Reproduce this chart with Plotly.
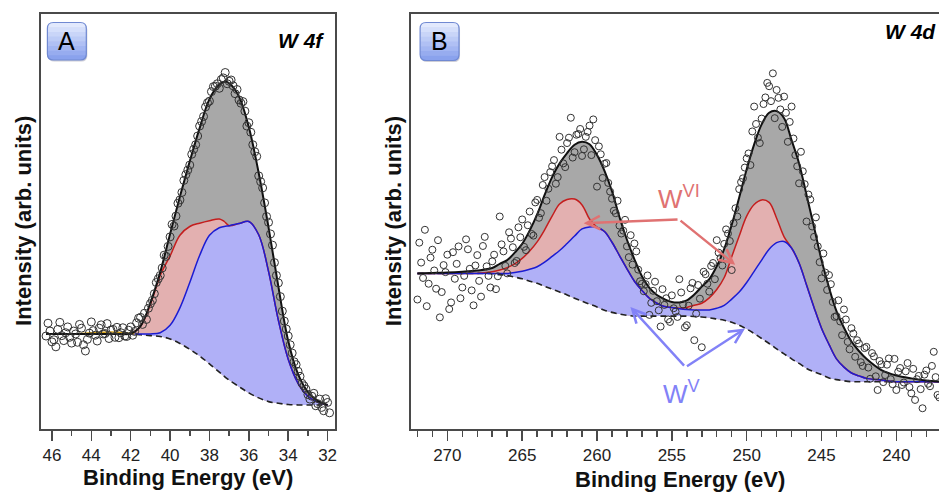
import plotly.graph_objects as go

W, H = 941, 493

# ---------------- Panel A : W 4f ----------------
A_x = [46.3, 45.5, 44.5, 43.5, 42.5, 42.0, 41.5, 41.0, 40.5, 40.0, 39.5, 39.0, 38.5, 38.0,
       37.5, 37.25, 37.0, 36.5, 36.0, 35.5, 35.0, 34.5, 34.0, 33.5, 33.0, 32.5, 32.0]
A_env = [22.9, 22.9, 22.9, 22.9, 22.9, 23.0, 24.8, 30.4, 37.8, 47.0, 56.0, 64.5, 72.5, 79.5,
         83.0, 83.7, 83.3, 80.1, 72.7, 61.7, 48.6, 34.3, 21.2, 13.2, 8.9, 6.8, 5.8]
A_bg = [22.9, 22.9, 22.9, 22.9, 22.9, 22.9, 22.7, 22.5, 22.3, 21.7, 20.6, 19.2, 17.6, 15.7,
        13.7, 12.7, 11.8, 10.2, 8.7, 7.5, 6.6, 6.2, 5.9, 5.8, 5.8, 5.8, 5.8]
A_wvi = [22.9, 22.9, 22.9, 22.9, 22.9, 23.0, 24.8, 30.0, 37.0, 41.7, 46.7, 48.8, 49.6, 50.2,
         50.6, 50.0, 49.0, 49.5, 50.0, 46.8, 38.0, 26.2, 16.8, 11.0, 7.9, 6.5, 5.8]
A_wv = [22.9, 22.9, 22.9, 22.9, 22.9, 22.9, 22.9, 22.9, 23.2, 25.0, 29.2, 35.3, 41.8, 46.7,
        48.5, 48.8, 49.0, 49.5, 50.0, 46.8, 38.0, 26.2, 16.8, 11.0, 7.9, 6.5, 5.8]
A_minor_x = [44.8, 44.0, 43.0, 42.3, 41.8]
A_minor_y = [22.9, 23.2, 23.4, 23.2, 22.9]

A_obs1_x = [46.2, 46.1, 45.9, 45.8, 45.6, 45.5, 45.3, 45.1, 44.9, 44.7,
            44.6, 44.4, 44.3, 44.1, 44.0, 43.8, 43.6, 43.4, 43.2, 43.0,
            42.8, 42.7, 42.5, 42.3, 42.1, 41.9, 41.7, 41.5, 41.3, 41.2,
            41.0, 40.8, 40.6, 40.4, 40.2, 40.0, 39.8, 39.6, 39.4, 39.2,
            39.0, 38.8, 38.6, 38.4, 38.2, 38.0, 37.8, 37.6, 37.4, 37.2,
            37.0, 36.8, 36.6, 36.4, 36.2, 36.0, 35.8, 35.6, 35.4, 35.2,
            35.0, 34.8, 34.6, 34.4, 34.2, 34.0, 33.8, 33.6, 33.4, 33.2,
            33.0, 32.8, 32.6, 32.4, 32.2, 32.0, 31.9]
A_obs1_y = [25.5, 23.6, 21.5, 19.8, 25.7, 22.5, 23.2, 22.1, 23.6, 20.9,
            25.2, 20.3, 18.8, 23.1, 25.8, 22.6, 24.3, 22.9, 25.4, 23.8,
            22.1, 24.5, 23.2, 22.4, 23.8, 22.6, 25.6, 26.9, 27.9, 26.4,
            30.2, 32.6, 36.2, 38.8, 41.6, 46.3, 48.9, 54.4, 57.0, 61.3,
            63.6, 67.4, 70.6, 74.1, 77.6, 79.0, 82.5, 83.2, 84.2, 85.9,
            83.8, 82.7, 81.8, 78.5, 76.6, 73.8, 68.5, 65.7, 59.6, 54.5,
            49.8, 44.3, 37.0, 31.9, 26.0, 22.4, 18.3, 15.5, 12.7, 10.4,
            8.3, 7.9, 5.6, 7.2, 4.4, 6.4, 3.9]
A_obs2_x = [46.3, 46.0, 45.7, 45.4, 45.2, 45.0, 44.8, 44.5, 44.2, 43.9,
            43.7, 43.5, 43.3, 43.1, 42.9, 42.6, 42.4, 42.2, 42.0, 41.8,
            41.6, 41.4, 41.1, 40.9, 40.7, 40.5, 40.3, 40.1, 39.9, 39.7,
            39.5, 39.3, 39.1, 38.9, 38.7, 38.5, 38.3, 38.1, 37.9, 37.7,
            37.5, 37.3, 37.1, 36.9, 36.7, 36.5, 36.3, 36.1, 35.9, 35.7,
            35.5, 35.3, 35.1, 34.9, 34.7, 34.5, 34.3, 34.1, 33.9, 33.7,
            33.5, 33.3, 33.1, 32.9, 32.7, 32.5, 32.3, 32.1]
A_obs2_y = [22.4, 21.0, 24.0, 21.3, 24.6, 20.7, 22.9, 24.3, 21.6, 23.7,
            21.2, 25.1, 23.0, 21.8, 24.0, 22.0, 24.4, 22.3, 24.6, 23.5,
            26.7, 25.2, 29.1, 31.0, 35.3, 37.0, 41.9, 44.0, 49.3, 51.3,
            55.2, 59.9, 62.4, 66.2, 68.5, 73.0, 75.3, 78.6, 81.3, 82.6,
            82.1, 84.6, 83.2, 84.1, 80.8, 79.3, 78.9, 73.0, 71.5, 66.8,
            61.0, 58.1, 51.2, 47.0, 40.1, 35.2, 28.4, 24.1, 20.3, 16.2,
            13.9, 11.0, 9.6, 7.2, 8.6, 6.1, 5.2, 7.3]

# ---------------- Panel B : W 4d ----------------
B_x = [272, 271, 270, 269, 268, 267,
       266.5, 266, 265.5, 265, 264.5, 264, 263.5, 263, 262.5, 262,
       261.5, 261, 260.5, 260, 259.5, 259, 258.5, 258, 257.5, 257,
       256.5, 256, 255.5, 255, 254.5, 254, 253.5, 253, 252.5, 252,
       251.5, 251, 250.5, 250, 249.5, 249, 248.5, 248, 247.5, 247,
       246.5, 246, 245.5, 245, 244.5, 244, 243.5, 243, 242.5, 242,
       241, 240, 239, 238, 237]
B_env = [37.5, 37.6, 37.7, 37.9, 38.2, 38.8,
         39.8, 40.7, 42.5, 44.6, 47.8, 51.7, 56.4, 60.7, 64.0, 66.5,
         68.5, 69.2, 68.6, 66.0, 62.2, 57.3, 51.1, 45.6, 40.9, 36.8,
         34.0, 32.3, 31.3, 30.6, 30.5, 31.0, 32.4, 34.3, 36.1, 39.2,
         43.4, 49.2, 55.8, 62.6, 68.6, 73.4, 76.2, 76.6, 74.9, 69.6,
         64.0, 56.4, 48.7, 40.7, 34.1, 28.4, 24.4, 21.1, 18.8, 16.9,
         14.2, 12.9, 12.2, 11.7, 11.4]
B_bg = [37.5, 37.5, 37.5, 37.5, 37.5, 37.4,
        37.2, 37.0, 36.6, 36.2, 35.6, 35.1, 34.4, 33.7, 33.0, 32.3,
        31.5, 30.8, 30.1, 29.4, 28.6, 28.1, 27.7, 27.4, 27.2, 27.2,
        27.2, 27.2, 27.2, 27.2, 27.2, 27.2, 27.1, 27.0, 26.8, 26.5,
        26.2, 25.7, 25.0, 24.1, 23.0, 21.8, 20.6, 19.3, 18.1, 16.9,
        15.8, 14.6, 13.8, 13.1, 12.3, 11.9, 11.6, 11.4, 11.4, 11.4,
        11.4, 11.4, 11.4, 11.4, 11.4]
B_wvi = [37.5, 37.5, 37.5, 37.5, 37.5, 37.9,
         38.3, 38.9, 39.8, 41.1, 42.9, 45.1, 48.0, 51.3, 54.2, 55.3,
         55.4, 54.0, 50.6, 48.6, 47.6, 45.0, 41.8, 38.6, 35.6, 33.4,
         31.5, 30.3, 29.5, 29.3, 29.1, 29.3, 29.8, 30.3, 31.6, 33.6,
         36.5, 41.5, 46.5, 51.3, 54.1, 55.2, 54.6, 50.8, 46.3, 43.6,
         40.0, 34.7, 29.3, 24.3, 20.4, 16.9, 14.9, 13.5, 12.8, 12.2,
         11.8, 11.4, 11.4, 11.4, 11.4]
B_wv = [37.5, 37.5, 37.5, 37.5, 37.5, 37.5,
        37.5, 37.5, 37.7, 38.0, 38.5, 39.1, 40.2, 41.6, 43.0, 44.7,
        46.5, 48.2, 48.7, 48.6, 47.6, 45.0, 41.8, 38.6, 35.6, 33.4,
        31.5, 30.3, 29.5, 29.3, 29.0, 28.8, 28.7, 28.7, 28.7, 29.1,
        29.8, 31.3, 33.0, 35.3, 38.0, 40.7, 43.3, 44.9, 45.2, 43.6,
        40.0, 34.7, 29.3, 24.3, 20.4, 16.9, 14.9, 13.5, 12.8, 12.2,
        11.8, 11.4, 11.4, 11.4, 11.4]

B_obs1_x = [272.0, 271.75, 271.5, 271.25, 271.0, 270.75, 270.5, 270.25, 270.0, 269.75,
            269.5, 269.25, 269.0, 268.75, 268.5, 268.25, 268.0, 267.75, 267.5, 267.25,
            267.0, 266.75, 266.5, 266.25, 266.0, 265.75, 265.5, 265.25, 265.0, 264.75,
            264.5, 264.25, 264.0, 263.75, 263.5, 263.25, 263.0, 262.75, 262.5, 262.25,
            262.0, 261.75, 261.5, 261.25, 261.0, 260.75, 260.5, 260.25, 260.0, 259.75,
            259.5, 259.25, 259.0, 258.75, 258.5, 258.25, 258.0, 257.75, 257.5, 257.25,
            257.0, 256.75, 256.5, 256.25, 256.0, 255.75, 255.5, 255.25, 255.0, 254.75,
            254.5, 254.25, 254.0, 253.75, 253.5, 253.25, 253.0, 252.75, 252.5, 252.25,
            252.0, 251.75, 251.5, 251.25, 251.0, 250.75, 250.5, 250.25, 250.0, 249.75,
            249.5, 249.25, 249.0, 248.75, 248.5, 248.25, 248.0, 247.75, 247.5, 247.25,
            247.0, 246.75, 246.5, 246.25, 246.0, 245.75, 245.5, 245.25, 245.0, 244.75,
            244.5, 244.25, 244.0, 243.75, 243.5, 243.25, 243.0, 242.75, 242.5, 242.25,
            242.0, 241.75, 241.5, 241.25, 241.0, 240.75, 240.5, 240.25, 240.0, 239.75,
            239.5, 239.25, 239.0, 238.75, 238.5, 238.25, 238.0, 237.75, 237.5, 237.25]
B_obs1_y = [31.2, 40.1, 48.0, 35.0, 43.2, 33.8, 26.9, 39.5, 42.0, 30.5,
            36.2, 44.0, 34.1, 45.7, 38.6, 29.8, 41.9, 31.9, 46.3, 36.9,
            40.4, 33.7, 51.2, 42.8, 37.5, 45.9, 40.0, 48.6, 50.5, 43.1,
            52.4, 46.6, 55.2, 52.0, 60.7, 57.9, 63.3, 59.1, 70.4, 64.0,
            68.9, 75.0, 66.7, 71.1, 65.8, 70.4, 73.1, 74.6, 58.4, 66.2,
            63.9, 59.3, 55.5, 52.0, 49.0, 47.8, 44.0, 46.7, 44.7, 38.4,
            35.0, 34.9, 27.5, 33.3, 30.8, 24.7, 29.9, 26.4, 32.2, 28.3,
            36.1, 30.0, 25.0, 33.9, 21.4, 34.7, 19.7, 37.3, 33.1, 40.0,
            45.5, 41.2, 44.6, 47.1, 38.3, 53.2, 57.8, 60.4, 65.2, 63.6,
            77.7, 70.2, 74.8, 79.9, 82.6, 85.7, 81.7, 77.0, 80.1, 69.2,
            77.7, 66.0, 59.2, 62.1, 50.0, 55.3, 46.3, 44.0, 36.3, 37.7,
            37.1, 30.6, 27.2, 25.9, 28.8, 21.0, 24.3, 17.4, 20.6, 15.2,
            19.8, 12.1, 17.5, 9.4, 15.6, 13.0, 17.0, 10.8, 9.4, 14.7,
            11.2, 15.9, 8.6, 7.0, 12.8, 5.0, 14.1, 10.3, 18.6, 8.2]
B_obs2_x = [271.875, 271.625, 271.375, 271.125, 270.875, 270.625, 270.375, 270.125, 269.875, 269.625,
            269.375, 269.125, 268.875, 268.625, 268.375, 268.125, 267.875, 267.625, 267.375, 267.125,
            266.875, 266.625, 266.375, 266.125, 265.875, 265.625, 265.375, 265.125, 264.875, 264.625,
            264.375, 264.125, 263.875, 263.625, 263.375, 263.125, 262.875, 262.625, 262.375, 262.125,
            261.875, 261.625, 261.375, 261.125, 260.875, 260.625, 260.375, 260.125, 259.875, 259.625,
            259.375, 259.125, 258.875, 258.625, 258.375, 258.125, 257.875, 257.625, 257.375, 257.125,
            256.875, 256.625, 256.375, 256.125, 255.875, 255.625, 255.375, 255.125, 254.875, 254.625,
            254.375, 254.125, 253.875, 253.625, 253.375, 253.125, 252.875, 252.625, 252.375, 252.125,
            251.875, 251.625, 251.375, 251.125, 250.875, 250.625, 250.375, 250.125, 249.875, 249.625,
            249.375, 249.125, 248.875, 248.625, 248.375, 248.125, 247.875, 247.625, 247.375, 247.125,
            246.875, 246.625, 246.375, 246.125, 245.875, 245.625, 245.375, 245.125, 244.875, 244.625,
            244.375, 244.125, 243.875, 243.625, 243.375, 243.125, 242.875, 242.625, 242.375, 242.125,
            241.875, 241.625, 241.375, 241.125, 240.875, 240.625, 240.375, 240.125, 239.875, 239.625,
            239.375, 239.125, 238.875, 238.625, 238.375, 238.125, 237.875, 237.625, 237.375, 237.125]
B_obs2_y = [44.9, 36.4, 29.6, 41.3, 38.2, 45.5, 33.0, 37.8, 28.9, 42.6,
            39.8, 31.5, 36.9, 43.3, 33.4, 39.4, 35.7, 44.1, 39.2, 34.1,
            42.0, 36.8, 44.5, 39.3, 47.4, 43.8, 40.5, 46.2, 43.9, 49.1,
            47.0, 54.6, 50.9, 58.8, 55.0, 61.9, 64.8, 60.7, 67.3, 63.1,
            70.2, 65.4, 70.9, 72.3, 67.4, 71.6, 66.0, 69.6, 68.1, 60.5,
            64.1, 57.2, 52.6, 55.0, 47.1, 50.4, 41.4, 39.6, 42.8, 35.6,
            33.2, 37.0, 30.4, 35.5, 28.6, 33.7, 31.5, 25.8, 29.1, 27.0,
            32.9, 24.5, 29.7, 35.2, 27.8, 31.4, 37.9, 35.0, 39.3, 36.1,
            42.5, 39.4, 48.1, 45.3, 49.6, 51.2, 59.5, 63.0, 66.4, 71.7,
            73.5, 68.9, 78.3, 83.4, 79.0, 74.9, 79.8, 72.8, 76.2, 74.0,
            70.0, 63.3, 66.8, 59.0, 56.5, 48.8, 51.0, 40.2, 42.3, 33.5,
            34.9, 27.0, 31.0, 22.6, 26.4, 19.2, 23.0, 21.4, 16.1, 19.5,
            14.8, 18.3, 12.7, 16.4, 11.3, 15.5, 12.0, 16.9, 13.8, 10.6,
            13.9, 10.1, 14.5, 12.0, 9.6, 13.1, 10.9, 15.2, 12.5, 7.6]

X_title = "Binding Energy (eV)"
Y_title = "Intensity (arb. units)"

# ---------------- styling ----------------
FONT = "Liberation Sans, Arial, sans-serif"
GRAY_FILL = "#a8a8a8"
PINK_FILL = "#e3b0b0"
BLUE_FILL = "#b0b0f7"
RED_LINE = "#c41e1e"
BLUE_LINE = "#1c1cd2"
FRAME = "#4a4a4a"


def px2x(px):
    return px / W


def py2y(py):
    return 1 - py / H


fig = go.Figure()


def add_panel(xv, env, bg, wvi, wv, xa, ya):
    common = dict(xaxis=xa, yaxis=ya, hoverinfo="skip", showlegend=False,
                  line_shape="spline")
    fig.add_trace(go.Scatter(x=xv, y=bg, mode="lines", line=dict(width=0), **common))
    fig.add_trace(go.Scatter(x=xv, y=env, mode="lines", line=dict(width=0),
                             fill="tonexty", fillcolor=GRAY_FILL, **common))
    fig.add_trace(go.Scatter(x=xv, y=bg, mode="lines", line=dict(width=0), **common))
    fig.add_trace(go.Scatter(x=xv, y=wvi, mode="lines", line=dict(width=0),
                             fill="tonexty", fillcolor=PINK_FILL, **common))
    fig.add_trace(go.Scatter(x=xv, y=bg, mode="lines", line=dict(width=0), **common))
    fig.add_trace(go.Scatter(x=xv, y=wv, mode="lines", line=dict(width=0),
                             fill="tonexty", fillcolor=BLUE_FILL, **common))
    fig.add_trace(go.Scatter(x=xv, y=bg, mode="lines",
                             line=dict(color="#222222", width=1.6, dash="6px,4px"), **common))
    fig.add_trace(go.Scatter(x=xv, y=wvi, mode="lines",
                             line=dict(color=RED_LINE, width=1.5), **common))
    fig.add_trace(go.Scatter(x=xv, y=wv, mode="lines",
                             line=dict(color=BLUE_LINE, width=1.5), **common))


add_panel(A_x, A_env, A_bg, A_wvi, A_wv, "x", "y")
fig.add_trace(go.Scatter(x=A_minor_x, y=A_minor_y, mode="lines", line_shape="spline",
                         line=dict(color="#d4a017", width=1.5), xaxis="x", yaxis="y",
                         hoverinfo="skip", showlegend=False))
fig.add_trace(go.Scatter(x=A_x, y=A_env, mode="lines", line_shape="spline",
                         line=dict(color="#111111", width=2.0), xaxis="x", yaxis="y",
                         hoverinfo="skip", showlegend=False))
fig.add_trace(go.Scatter(x=A_obs1_x + A_obs2_x, y=A_obs1_y + A_obs2_y, mode="markers",
                         marker=dict(symbol="circle-open", size=8, color="#333333",
                                     line=dict(width=1)),
                         xaxis="x", yaxis="y", hoverinfo="skip", showlegend=False))

add_panel(B_x, B_env, B_bg, B_wvi, B_wv, "x2", "y2")
fig.add_trace(go.Scatter(x=B_x, y=B_env, mode="lines", line_shape="spline",
                         line=dict(color="#111111", width=2.0), xaxis="x2", yaxis="y2",
                         hoverinfo="skip", showlegend=False))
fig.add_trace(go.Scatter(x=B_obs1_x + B_obs2_x, y=B_obs1_y + B_obs2_y, mode="markers",
                         marker=dict(symbol="circle-open", size=7, color="#333333",
                                     line=dict(width=1)),
                         xaxis="x2", yaxis="y2", hoverinfo="skip", showlegend=False))

ydom = [py2y(429), py2y(14)]
xaxis_common = dict(showline=True, linecolor=FRAME, linewidth=2, mirror=True,
                    ticks="outside", ticklen=10, tickwidth=1.5, tickcolor=FRAME,
                    showgrid=False, zeroline=False, tick0=0,
                    tickfont=dict(family=FONT, size=17, color="#222222"))
yaxis_common = dict(showline=True, linecolor=FRAME, linewidth=2, ticks="",
                    showticklabels=False, showgrid=False, zeroline=False,
                    range=[0, 100], domain=ydom)

fig.update_layout(
    width=W, height=H, margin=dict(l=0, r=0, t=0, b=0),
    paper_bgcolor="white", plot_bgcolor="white", showlegend=False,
    xaxis=dict(domain=[px2x(41), px2x(336)], range=[46.56, 31.61], dtick=2,
               minor=dict(dtick=1, ticks="outside", ticklen=5, tickwidth=1.5,
                          tickcolor=FRAME),
               anchor="y", **xaxis_common),
    yaxis=dict(anchor="x", mirror=True, **yaxis_common),
    xaxis2=dict(domain=[px2x(412.3), 1.0], range=[272.4, 237.15], dtick=5,
                minor=dict(dtick=1, ticks="outside", ticklen=6, tickwidth=1.5,
                           tickcolor=FRAME),
                anchor="y2", **xaxis_common),
    yaxis2=dict(anchor="x2", mirror=False, **yaxis_common),
)


# ---------------- panel letter boxes ----------------
def P(px, py):
    return f"{px / W:.5f},{1 - py / H:.5f}"


def band_path(x0, y0, x1, y1, r, top, bottom):
    s = []
    if top:
        s.append(f"M{P(x0, y0 + r)} Q{P(x0, y0)} {P(x0 + r, y0)} L{P(x1 - r, y0)} "
                 f"Q{P(x1, y0)} {P(x1, y0 + r)}")
    else:
        s.append(f"M{P(x0, y0)} L{P(x1, y0)}")
    if bottom:
        s.append(f"L{P(x1, y1 - r)} Q{P(x1, y1)} {P(x1 - r, y1)} L{P(x0 + r, y1)} "
                 f"Q{P(x0, y1)} {P(x0, y1 - r)}")
    else:
        s.append(f"L{P(x1, y1)} L{P(x0, y1)}")
    s.append("Z")
    return " ".join(s)


shapes = []


def letter_box(x0, y0, x1, y1):
    r = 6
    top_c = (226, 233, 253)
    bot_c = (138, 162, 237)
    shapes.append(dict(type="path", xref="paper", yref="paper", layer="above",
                       path=band_path(x0 + 1, y0 + 1.5, x1 + 1, y1 + 1.5, r, True, True),
                       fillcolor="rgba(60,60,90,0.25)", line=dict(width=0)))
    n = 8
    h = (y1 - y0) / n
    for i in range(n):
        t = i / (n - 1)
        c = tuple(round(top_c[k] + (bot_c[k] - top_c[k]) * t) for k in range(3))
        yy0 = y0 + i * h
        yy1 = min(y1, y0 + (i + 1) * h + 0.6)
        shapes.append(dict(type="path", xref="paper", yref="paper", layer="above",
                           path=band_path(x0, yy0, x1, yy1, min(r, h), i == 0, i == n - 1),
                           fillcolor=f"rgb{c}", line=dict(width=0)))
    shapes.append(dict(type="path", xref="paper", yref="paper", layer="above",
                       path=band_path(x0, y0, x1, y1, r, True, True),
                       fillcolor="rgba(0,0,0,0)", line=dict(color="#7089d2", width=1.2)))


letter_box(47.5, 22.5, 86.5, 60)
letter_box(421, 22.5, 460, 60.5)

annotations = []


def ann_px(px, py, text, size, **kw):
    d = dict(x=px2x(px), y=py2y(py), xref="paper", yref="paper", text=text,
             showarrow=False, font=dict(family=FONT, size=size, color=kw.pop("color", "#000")),
             xanchor=kw.pop("xanchor", "center"), yanchor=kw.pop("yanchor", "middle"))
    d.update(kw)
    annotations.append(d)


ann_px(67, 41.5, "A", 25)
ann_px(440.5, 41.5, "B", 25)
ann_px(327, 41, "<b><i>W 4f</i></b>", 21, xanchor="right")
ann_px(940, 31, "<b><i>W 4d</i></b>", 21, xanchor="right")
ann_px(23, 221, f"<b>{Y_title}</b>", 22, textangle=-90, color="#111")
ann_px(394, 221, f"<b>{Y_title}</b>", 22, textangle=-90, color="#111")
ann_px(188.5, 477, f"<b>{X_title}</b>", 22, color="#111")
ann_px(681.7, 479.5, f"<b>{X_title}</b>", 22, color="#111")

RED_ARROW = "#e07272"
BLUE_ARROW = "#8282f7"
annotations.append(dict(x=254.55, y=55.7, xref="x2", yref="y2", text="W<sup>VI</sup>",
                        showarrow=False, font=dict(family=FONT, size=26, color=RED_ARROW)))
annotations.append(dict(x=254.35, y=8.7, xref="x2", yref="y2", text="W<sup>V</sup>",
                        showarrow=False, font=dict(family=FONT, size=26, color=BLUE_ARROW)))
for (hx, hy, tx, ty, col) in [(260.89, 49.6, 254.52, 50.5, RED_ARROW),
                              (250.77, 39.6, 254.52, 50.5, RED_ARROW),
                              (257.77, 29.4, 254.09, 14.9, BLUE_ARROW),
                              (250.11, 24.2, 254.09, 14.9, BLUE_ARROW)]:
    annotations.append(dict(x=hx, y=hy, ax=tx, ay=ty, xref="x2", yref="y2",
                            axref="x2", ayref="y2", text="", showarrow=True,
                            arrowhead=5, arrowsize=1.1, arrowwidth=2.4, arrowcolor=col))

fig.update_layout(shapes=shapes, annotations=annotations)
fig.write_html("out.html",
               config={"displayModeBar": False, "staticPlot": True},
               post_script="document.body.style.margin='0px';"
                           "document.body.style.overflow='hidden';")
